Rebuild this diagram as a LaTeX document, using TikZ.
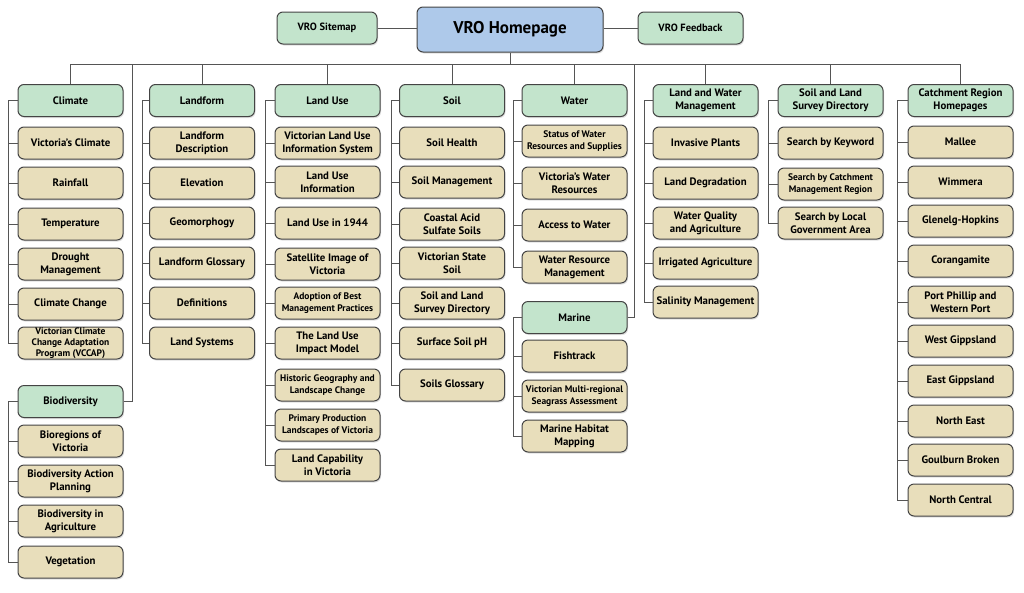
\documentclass[tikz,border=0pt]{standalone}
\usepackage{fontspec}
\setmainfont{PT Sans}
\usetikzlibrary{shadows}
\definecolor{secg}{HTML}{C3E4CC}
\definecolor{leaft}{HTML}{E8DEBB}
\definecolor{homeb}{HTML}{AEC9EA}
\definecolor{edge}{HTML}{444444}
\definecolor{wire}{HTML}{555555}
\tikzset{
  base/.style={draw=edge, line width=1pt, rounded corners=6pt, align=center,
    inner sep=0pt, minimum width=105pt, minimum height=32pt,
    font=\fontsize{10.8}{13}\selectfont\bfseries,
    drop shadow={shadow xshift=1pt, shadow yshift=-1.5pt, opacity=0.25}},
  sec/.style={base, fill=secg},
  leaf/.style={base, fill=leaft},
  small/.style={font=\fontsize{9.5}{11.3}\selectfont\bfseries},
  homebox/.style={base, fill=homeb, minimum width=186pt, minimum height=45pt,
    font=\fontsize{17}{20}\selectfont\bfseries},
  conn/.style={draw=wire, line width=0.9pt},
}
\begin{document}
\begin{tikzpicture}[x=1pt,y=-1pt]
\useasboundingbox (0,0) rectangle (1024,592);
\coordinate (bus) at (0,64);
% top
\node[homebox] (home) at (510,29.5) {VRO Homepage};
\node[sec, minimum width=100pt, font=\fontsize{10.5}{12}\selectfont\bfseries] (smap) at (327,28) {VRO Sitemap};
\node[sec, minimum width=105pt, font=\fontsize{10.5}{12}\selectfont\bfseries] (fb) at (690.5,28) {VRO Feedback};
\draw[conn] (smap.east) -- (smap.east -| home.west);
\draw[conn] (fb.west) -- (fb.west -| home.east);
% sections
\node[sec] (clim) at (70.5,100.5) {Climate};
\node[sec] (lf) at (202,100.5) {Landform};
\node[sec] (lu) at (327.5,100.5) {Land Use};
\node[sec] (soil) at (452,100.5) {Soil};
\node[sec] (wat) at (574.5,100.5) {Water};
\node[sec] (lwm) at (705.5,100.5) {Land and Water\\Management};
\node[sec] (slsd) at (830.5,100.5) {Soil and Land\\Survey Directory};
\node[sec] (crh) at (960.5,100.5) {Catchment Region\\Homepages};
\node[sec] (bio) at (70.5,401.5) {Biodiversity};
\node[sec] (mar) at (574.5,317.5) {Marine};
% bus
\draw[conn] (clim.north) -- (clim.north |- bus) -- (crh.north |- bus) -- (crh.north);
\draw[conn] (home.south) -- (home.south |- bus);
\foreach \s in {lf,lu,soil,wat,lwm,slsd} {\draw[conn] (\s.north) -- (\s.north |- bus);}
\coordinate (bioup) at (132,64);
\coordinate (marup) at (634,64);
\draw[conn] (bio.east) -| (bioup);
\draw[conn] (mar.east) -| (marup);
% children
\foreach \n/\y/\t/\f in {1/143/Victoria’s Climate/,2/183/Rainfall/,3/224/Temperature/,4/264/Drought\\Management/,5/304/Climate Change/,6/343/Victorian Climate\\Change Adaptation\\Program (VCCAP)/small}
{\node[leaf,\f] (clim\n) at (70.5,\y) {\t}; \draw[conn] (clim.west) -| ([xshift=-9pt]clim\n.west) -- (clim\n.west);}
\foreach \n/\y/\t/\f in {1/441/Bioregions of\\Victoria/,2/481/Biodiversity Action\\Planning/,3/521/Biodiversity in\\Agriculture/,4/562/Vegetation/}
{\node[leaf,\f] (bio\n) at (70.5,\y) {\t}; \draw[conn] (bio.west) -| ([xshift=-9pt]bio\n.west) -- (bio\n.west);}
\foreach \n/\y/\t/\f in {1/143/Landform\\Description/,2/183/Elevation/,3/223/Geomorphogy/,4/263/Landform Glossary/,5/303/Definitions/,6/343/Land Systems/}
{\node[leaf,\f] (lf\n) at (202,\y) {\t}; \draw[conn] (lf.west) -| ([xshift=-7pt]lf\n.west) -- (lf\n.west);}
\foreach \n/\y/\t/\f in {1/143/Victorian Land Use\\Information System/,2/182/Land Use\\Information/,3/223/Land Use in 1944/,4/264/Satellite Image of\\Victoria/,5/303/Adoption of Best\\Management Practices/small,6/343/The Land Use\\Impact Model/,7/385/Historic Geography and\\Landscape Change/small,8/425/Primary Production\\Landscapes of Victoria/small,9/465/Land Capability\\in Victoria/}
{\node[leaf,\f] (lu\n) at (327.5,\y) {\t}; \draw[conn] (lu.west) -| ([xshift=-9pt]lu\n.west) -- (lu\n.west);}
\foreach \n/\y/\t/\f in {1/143/Soil Health/,2/182/Soil Management/,3/224/Coastal Acid\\Sulfate Soils/,4/263/Victorian State\\Soil/,5/303/Soil and Land\\Survey Directory/,6/343/Surface Soil pH/,7/385/Soils Glossary/}
{\node[leaf,\f] (soil\n) at (452,\y) {\t}; \draw[conn] (soil.west) -| ([xshift=-8pt]soil\n.west) -- (soil\n.west);}
\foreach \n/\y/\t/\f in {1/141/Status of Water\\Resources and Supplies/small,2/183/Victoria’s Water\\Resources/,3/225/Access to Water/,4/267/Water Resource\\Management/}
{\node[leaf,\f] (wat\n) at (574.5,\y) {\t}; \draw[conn] (wat.west) -| ([xshift=-8pt]wat\n.west) -- (wat\n.west);}
\foreach \n/\y/\t/\f in {1/356/Fishtrack/,2/396/Victorian Multi-regional\\Seagrass Assessment/small,3/436/Marine Habitat\\Mapping/}
{\node[leaf,\f] (mar\n) at (574.5,\y) {\t}; \draw[conn] (mar.west) -| ([xshift=-8pt]mar\n.west) -- (mar\n.west);}
\foreach \n/\y/\t/\f in {1/143/Invasive Plants/,2/183/Land Degradation/,3/223/Water Quality\\and Agriculture/,4/263/Irrigated Agriculture/,5/302/Salinity Management/}
{\node[leaf,\f] (lwm\n) at (705.5,\y) {\t}; \draw[conn] (lwm.west) -| ([xshift=-8pt]lwm\n.west) -- (lwm\n.west);}
\foreach \n/\y/\t/\f in {1/143/Search by Keyword/,2/184/Search by Catchment\\Management Region/small,3/223/Search by Local\\Government Area/}
{\node[leaf,\f] (slsd\n) at (830.5,\y) {\t}; \draw[conn] (slsd.west) -| ([xshift=-9pt]slsd\n.west) -- (slsd\n.west);}
\foreach \n/\y/\t/\f in {1/142/Mallee/,2/182/Wimmera/,3/221/Glenelg-Hopkins/,4/261/Corangamite/,5/302/Port Phillip and\\Western Port/,6/341/West Gippsland/,7/381/East Gippsland/,8/421/North East/,9/460/Goulburn Broken/,10/500/North Central/}
{\node[leaf,\f] (crh\n) at (960.5,\y) {\t}; \draw[conn] (crh.west) -| ([xshift=-10pt]crh\n.west) -- (crh\n.west);}
\end{tikzpicture}
\end{document}
